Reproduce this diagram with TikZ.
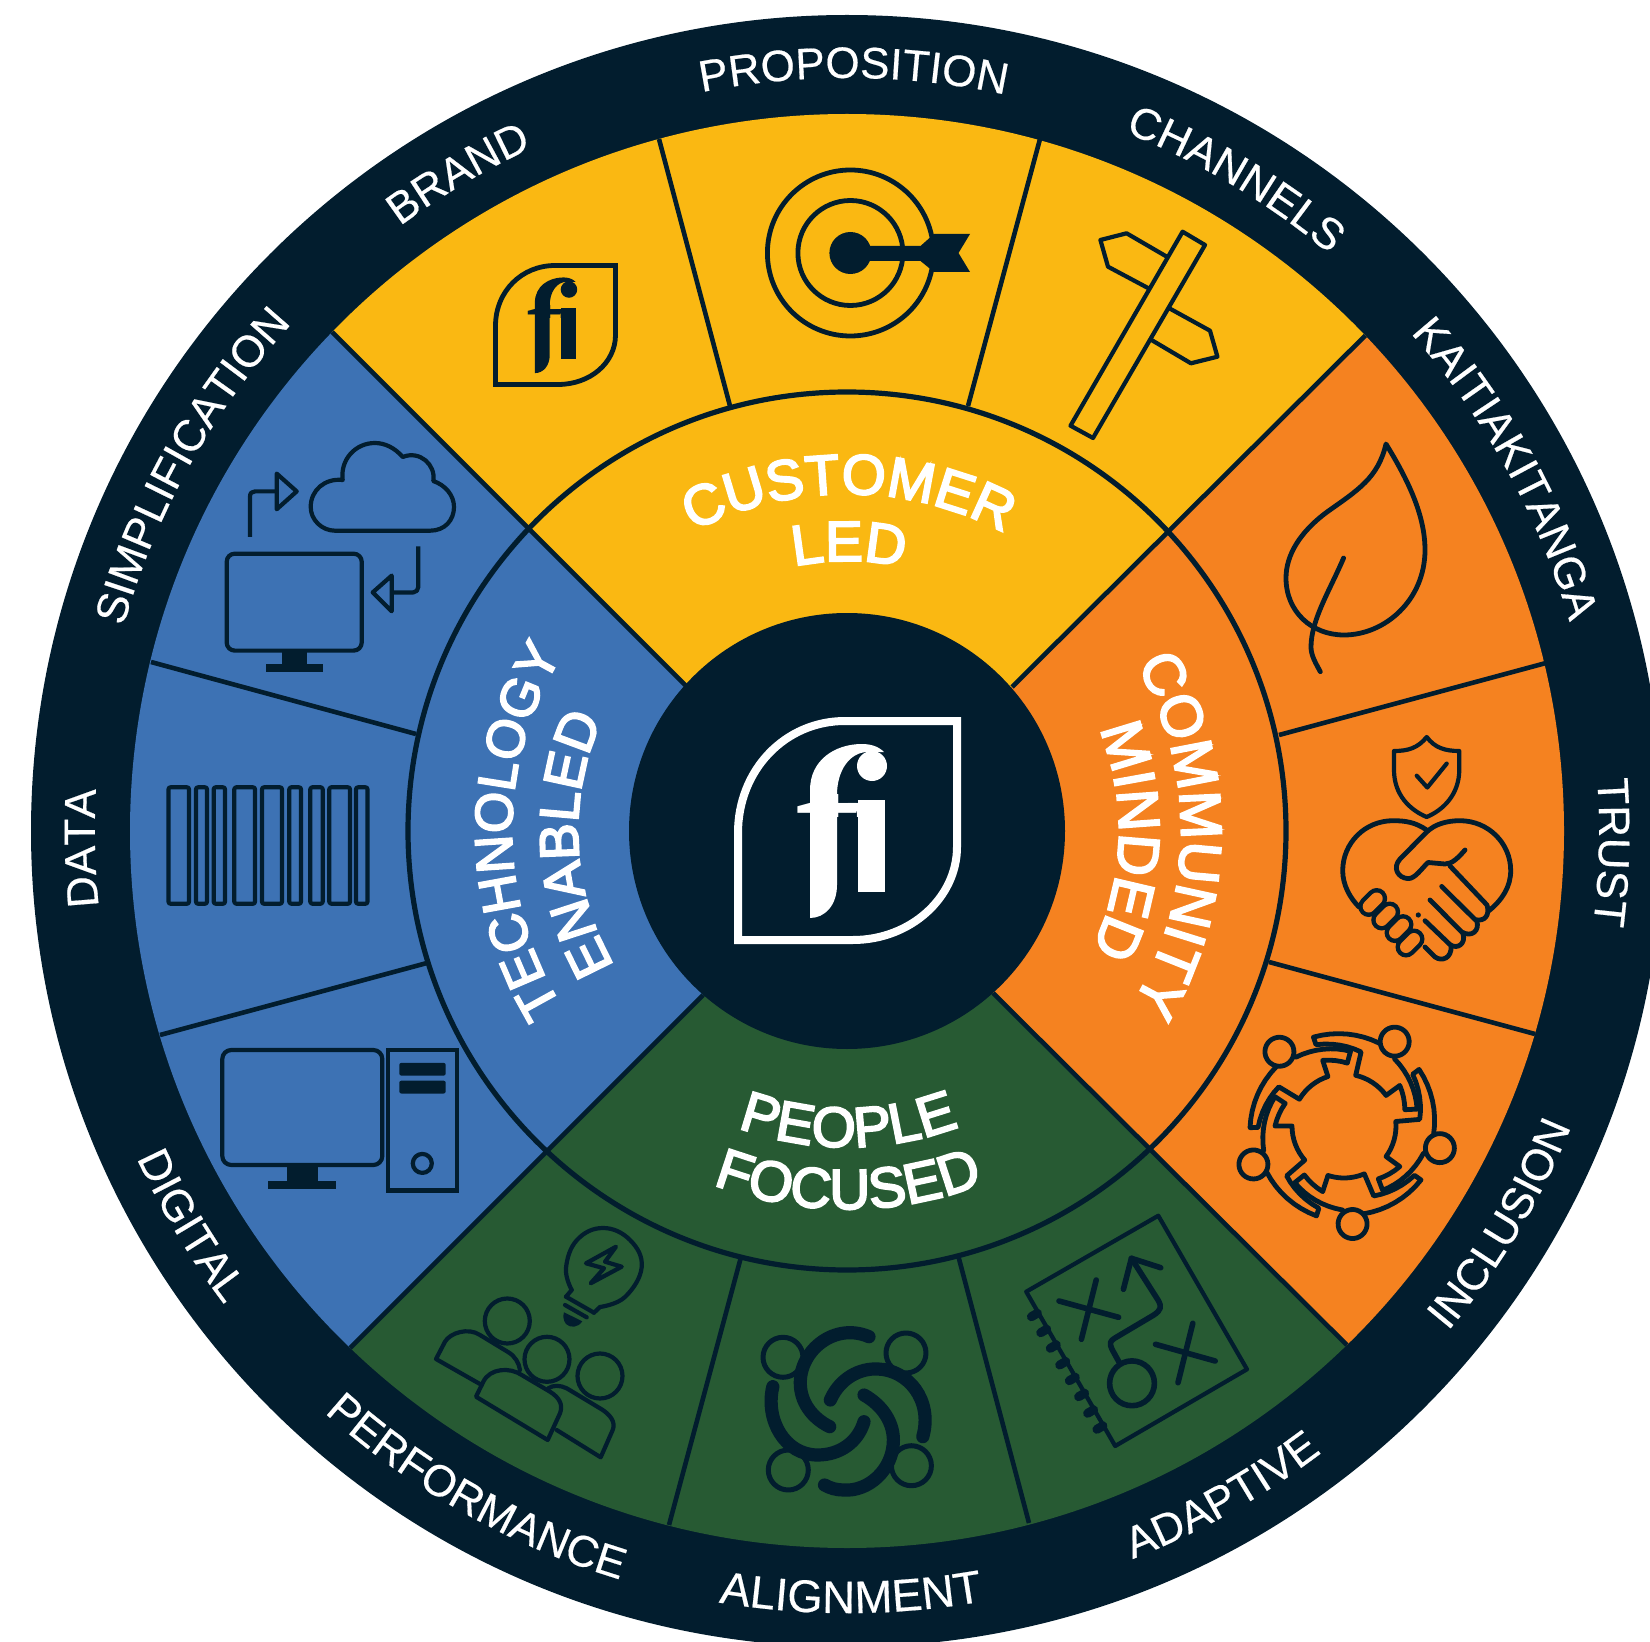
\documentclass[tikz,border=0pt]{standalone}
\usepackage{fontspec}
\setmainfont{Liberation Sans}
\newfontfamily\ringface[FakeBold=0.4]{Liberation Sans}
\newfontfamily\secface[FakeBold=3.5]{Liberation Sans}
\newfontfamily\fiface{Liberation Serif}
\usetikzlibrary{decorations.text}
\definecolor{navy}{HTML}{021D2E}
\definecolor{fiyellow}{HTML}{FAB812}
\definecolor{fiorange}{HTML}{F58220}
\definecolor{figreen}{HTML}{275A33}
\definecolor{fiblue}{HTML}{3D72B4}
\newcommand{\ringfont}{\ringface\fontsize{22}{22}\selectfont\color{white}}
\newcommand{\ringfontb}{\ringface\fontsize{22.8}{22.8}\selectfont\color{white}}
\newcommand{\secfont}{\secface\fontsize{28.3}{28.3}\selectfont\color{white}}
\newcommand{\secfontr}{\secface\fontsize{29}{29}\selectfont\color{white}}
\newcommand{\secfontl}{\secface\fontsize{26.5}{26.5}\selectfont\color{white}}
\newcommand{\secfontm}{\secface\fontsize{27.5}{27.5}\selectfont\color{white}}
\newcommand{\cwtext}[4]{\path[decorate,decoration={text along path,text={|#3|#4},text align=center}] (#2+60:#1) arc[start angle=#2+60,end angle=#2-60,radius=#1];}
\newcommand{\ccwtext}[4]{\path[decorate,decoration={text along path,text={|#3|#4},text align=center}] (#2-60:#1) arc[start angle=#2-60,end angle=#2+60,radius=#1];}
\newcommand{\capsule}[2]{\draw[navy,line width=10.5pt,line cap=round] (#1-4,#2+4) -- (#1+4,#2-4);\draw[fiorange,line width=6pt,line cap=round] (#1-4,#2+4) -- (#1+4,#2-4);}
\newcommand{\tooth}[2]{\draw[navy,line width=4.5pt,line cap=round] (#1,#2) -- (#1+6,#2-3.5);}
% the fi mark: #1 x, #2 y, #3 scale, #4 colour, #5 name
\newcommand{\fimark}[5]{%
 \begin{scope}[shift={(#1,#2)},x=#3*0.5pt,y=-#3*0.5pt]
  \begin{scope}
   \clip (-60,-36) rectangle (60,-14);
   \node (#5) [inner sep=0pt,anchor=base,scale=#3,text=#4,font=\fiface\bfseries\fontsize{97}{97}\selectfont] at (-0.5,61.5) {f\kern-8.5pt i};
  \end{scope}
  \fill[#4] (-37.5,87.5) -- (-37.5,-40.5) .. controls (-37.5,-70.5) and (-12.5,-86.5) .. (14.5,-86.5) .. controls (22.5,-86.5) and (30.5,-84.5) .. (36.5,-78.5) -- (20.5,-78.5) .. controls (2.5,-78.5) and (-10.5,-60.5) .. (-10.5,-35.5) -- (-10.5,54.5) .. controls (-10.5,74.5) and (-22.5,87.5) .. (-37.5,87.5) -- cycle;
  \fill[#4] (24.5,-64.5) circle[radius=15];
  \fill[#4] (10.5,-30.5) rectangle (37.5,61.5);
 \end{scope}}
\tikzset{
 spoke/.style={navy,line width=2.3pt},
 ic/.style={navy,line width=2.4pt,line join=round,line cap=round},
 icthin/.style={navy,line width=2.1pt,line join=round,line cap=round},
 swirl/.style={navy,line width=6.6pt,line cap=round},
}
\begin{document}
\begin{tikzpicture}[x=0.5pt,y=-0.5pt]
\useasboundingbox (0,0) rectangle (1650,1642);
\clip (0,0) rectangle (1650,1642);
\fill[white] (0,0) rectangle (1650,1642);
\fill[navy] (847,831) circle[radius=816];
\begin{scope}
 \clip (847,831) circle[radius=717];
 \fill[fiyellow] (847,831) -- (686,686) -- (232,232) -- (847,-100) -- (1466,235) -- (1012,687) -- cycle;
 \fill[fiorange] (847,831) -- (1012,687) -- (1466,235) -- (1800,831) -- (1447,1445) -- (993,993) -- cycle;
 \fill[figreen] (847,831) -- (993,993) -- (1447,1445) -- (847,1800) -- (250,1448) -- (703,995) -- cycle;
 \fill[fiblue] (847,831) -- (703,995) -- (250,1448) -- (-100,831) -- (232,232) -- (686,686) -- cycle;
 \draw[spoke] (300,300) -- (686,686);
 \draw[spoke] (1400,301) -- (1012,687);
 \draw[spoke] (1380,1378) -- (993,993);
 \draw[spoke] (317,1381) -- (703,995);
\end{scope}
% dividers
\draw[spoke] (659,139) -- (730,406);
\draw[spoke] (1040,139) -- (968,406);
\draw[spoke] (1546,663) -- (1279,735);
\draw[spoke] (1535,1034) -- (1269,962);
\draw[spoke] (669,1525) -- (741,1257);
\draw[spoke] (1029,1523) -- (958,1255);
\draw[spoke] (151,662) -- (416,734);
\draw[spoke] (160,1035) -- (427,963);
\draw[navy,line width=2.6pt] (847,831) circle[radius=439];
\fill[navy] (847,831) circle[radius=218];
% central logo
\draw[white,line width=4pt,miter limit=10] (738,940) -- (738,833) .. controls (738,770) and (785,721) .. (845,721) -- (957,721) -- (957,847) .. controls (957,898) and (910,940) .. (853,940) -- cycle;
\fimark{847.5}{830.5}{1}{white}{fibig}
% small logo
\draw[navy,line width=2.4pt,miter limit=10] (495.5,384.5) -- (495.5,326) .. controls (495.5,291) and (522,265.5) .. (555,265.5) -- (615.5,265.5) -- (615.5,335) .. controls (615.5,363) and (590,384.5) .. (558,384.5) -- cycle;
\fimark{555.5}{325}{0.55}{navy}{fismall}
% target
\draw[ic] (850.4,253) circle[radius=83];
\draw[ic] (850.4,253) circle[radius=52.5];
\fill[navy] (850.4,253) circle[radius=21];
\fill[navy] (850,246) -- (920.5,246) -- (934,234) -- (970,234) -- (958.5,253) -- (970,272) -- (934,272) -- (920.5,261) -- (850,261) -- cycle;
% signpost
\begin{scope}[icthin]
\draw (1182.6,231.7) -- (1205,245) -- (1093,438) -- (1070.5,425.7) -- cycle;
\draw (1166.8,256.7) -- (1126.6,233.3) -- (1100.4,240) -- (1108,266.7) -- (1148.5,288.3);
\draw (1169.3,308.3) -- (1210,330.7) -- (1217.4,356.7) -- (1190.9,363.3) -- (1151.5,340);
\end{scope}
% leaf
\draw[ic] (1386,444) .. controls (1378,478) and (1358,490) .. (1327,512) .. controls (1300,532) and (1286,555) .. (1286,578) .. controls (1286,612) and (1312,635) .. (1344,635) .. controls (1385,635) and (1425,600) .. (1425,550) .. controls (1425,515) and (1408,480) .. (1386,444) -- cycle;
\draw[ic] (1343.6,558) .. controls (1330,590) and (1311,620) .. (1311,647) .. controls (1311,655) and (1315,662) .. (1320.3,671.7);
% shield and handshake
\begin{scope}[icthin]
\draw (1426.7,737) .. controls (1418,748) and (1408,751) .. (1394,751) -- (1394,770) .. controls (1394,795) and (1410,810) .. (1426.7,817) .. controls (1443,810) and (1459,795) .. (1459.3,770) -- (1459.3,751) .. controls (1445,751) and (1435,748) .. (1426.7,737) -- cycle;
\draw (1416.7,775.7) -- (1427.3,787.5) -- (1446.7,763.6);
\end{scope}
\begin{scope}[ic]
\draw (1426.7,830) .. controls (1415,822) and (1405,820.7) .. (1393,820.7) .. controls (1365,820.7) and (1342.7,843) .. (1342.7,870.7) .. controls (1342.7,885) and (1350,898) .. (1359,907);
\draw (1489,910.7) .. controls (1502,900) and (1510.7,887) .. (1510.7,870.7) .. controls (1510.7,843) and (1488,820.7) .. (1460,820.7) .. controls (1447,820.7) and (1435,824) .. (1426.7,832) -- (1400,859) .. controls (1392,868) and (1398,878) .. (1408,878.6) .. controls (1415,879) and (1422,868) .. (1428,862.5) -- (1445,864) .. controls (1452,864) and (1458,858) .. (1465,850);
\draw (1450,866) -- (1487,905) .. controls (1490,915) and (1485,922) .. (1475,919.6) -- (1441.7,886.4);
\draw (1476.7,921) .. controls (1480,930) and (1472,938) .. (1461.7,932) -- (1430,900);
\draw (1463,934) .. controls (1466,943) and (1458,950) .. (1450,944.6) -- (1425,920.7);
\draw (1451,946) .. controls (1452,958) and (1442,962) .. (1435,957) -- (1425,947);
\fill (1418.3,915) circle[radius=2.6];
\end{scope}
\capsule{1372.7}{902.5}
\capsule{1385.7}{916}
\capsule{1399}{928.6}
\capsule{1410}{943}
% inclusion ring
\begin{scope}[shift={(1344,1126)},x=0.5pt,y=0.5pt]
\foreach \k in {0,...,4}{
 \begin{scope}[rotate=-3-72*\k]
 \draw[ic] (134:98.4) circle[radius=14.5];
 \draw[ic] plot[domain=128:88,samples=9,variable=\myt] (\myt:{84-(128-\myt)/40*9}) -- (90:63)
   -- plot[domain=90:111,samples=5,variable=\myt] (\myt:{63+(\myt-90)/21*6}) -- (111:52)
   -- plot[domain=111:152,samples=9,variable=\myt] (\myt:52) -- (152:76)
   -- plot[domain=152:184,samples=7,variable=\myt] (\myt:{76+(\myt-152)/32*10}) -- (184:94)
   -- plot[domain=184:142,samples=9,variable=\myt] (\myt:{94-(184-\myt)/42*4});
 \end{scope}
}
\end{scope}
% people and bulb
\begin{scope}[icthin]
\draw plot[smooth,tension=0.7] coordinates {(600,1307) (625,1297) (641.7,1267) (630,1240) (603,1228) (577,1240) (566,1268) (571.7,1290)};
\draw (566,1296.7) -- (594,1312.7);
\draw (565,1305) -- (586.7,1317.3);
\draw (571.7,1290) -- (566,1296.7);
\draw (594,1312.7) -- (600,1307);
\draw (616,1246.7) -- (586,1263.3) -- (604,1268.3) -- (590.7,1283.3) -- (621.7,1266.7) -- (605,1261.7) -- cycle;
\fill (564,1312.3) -- (582.3,1321.3) .. controls (578,1328) and (570,1328) .. (566,1324) .. controls (563,1320) and (563,1316) .. (564,1312.3) -- cycle;
\draw (507.3,1321) circle[radius=22.5];
\draw (547,1359.3) circle[radius=22.5];
\draw (600,1376) circle[radius=22.5];
\draw (481.7,1385) -- (436,1359) -- (445,1341.7) .. controls (450,1333) and (468,1327) .. (480,1335) -- (508,1352) .. controls (515,1356) and (519,1363) .. (520,1370);
\draw (476,1396.7) -- (483.3,1381.7) .. controls (490,1368) and (510,1367) .. (521.7,1375) -- (550,1391.7) .. controls (560,1398) and (563,1405) .. (560,1413.3) -- (547.7,1440) -- cycle;
\draw (548.3,1388.3) .. controls (553,1385) and (560,1385) .. (566.7,1388.3) -- (600,1408.3) .. controls (610,1414) and (616,1422) .. (612.7,1430) -- (600.7,1457.3) -- (556.7,1430);
\end{scope}
% alignment
\begin{scope}[icthin]
\draw[line width=2.5pt] (783,1357.3) circle[radius=20];
\draw[line width=2.5pt] (906,1353) circle[radius=20];
\draw[line width=2.5pt] (788.3,1470) circle[radius=20];
\draw[line width=2.5pt] (911.4,1465.7) circle[radius=20];
\end{scope}
\draw[swirl] (869,1336.7) .. controls (835,1322) and (800,1350) .. (800.3,1383) .. controls (800.3,1402) and (812,1418) .. (829.7,1426.7);
\draw[swirl] (830.3,1400) .. controls (840,1378) and (860,1368) .. (878,1369) .. controls (908,1370) and (933,1400) .. (922.8,1436.7);
\draw[swirl] (864,1395) .. controls (882,1405) and (893.4,1422) .. (893.4,1440) .. controls (893.4,1470) and (868,1492) .. (843.4,1490) .. controls (836,1490) and (830,1488) .. (824.5,1485);
\draw[swirl] (772.8,1386.7) .. controls (765,1420) and (785,1455) .. (817.6,1455) .. controls (840,1455) and (858,1442) .. (864,1421.7);
% adaptive
\begin{scope}[icthin]
\draw (1158.3,1215.7) -- (1247,1369.3) -- (1115.2,1446) -- (1026.2,1291.7) -- cycle;
\end{scope}
\tooth{1031.4}{1316.7}\tooth{1040.7}{1332.7}\tooth{1050.3}{1348.3}\tooth{1059.7}{1365}\tooth{1069.3}{1380.7}\tooth{1078.6}{1396.7}\tooth{1087.6}{1413.3}\tooth{1096.9}{1429.3}
\begin{scope}[ic,line width=2.8pt]
\draw (1059,1301) -- (1118.6,1317.3);
\draw (1096.2,1280) -- (1081.4,1339.3);
\draw (1155.5,1344.3) -- (1215.2,1361);
\draw (1192.8,1323.3) -- (1178,1382.7);
\draw (1132,1383.3) circle[radius=22.4];
\draw (1119,1362) -- (1112.4,1350) .. controls (1109,1343) and (1110,1341) .. (1115,1338) -- (1153.8,1315) .. controls (1161,1310) and (1162,1307) .. (1158,1300) -- (1131.4,1258.3);
\draw (1123.4,1289.3) -- (1131.4,1258.3) -- (1160.7,1267.7);
\end{scope}
% cloud and monitor
\begin{scope}[icthin]
\draw (335,530.7) -- (430,530.7) .. controls (445,530.7) and (454,520) .. (454,507) .. controls (454,495) and (445,485) .. (433.3,481) .. controls (436,465) and (420,450) .. (402.7,457) .. controls (395,448) and (385,443) .. (375,443) .. controls (355,443) and (340,460) .. (342.7,480) .. controls (325,478) and (310.7,490) .. (310.7,507) .. controls (310.7,520) and (322,530.7) .. (335,530.7) -- cycle;
\draw[line cap=butt] (250,537) -- (250,496.5) .. controls (250,493) and (252,491.4) .. (255,491.4) -- (276,491.4);
\draw (276.7,473.6) -- (296.7,491.4) -- (276.7,509.3) -- cycle;
\draw[line cap=butt] (418.3,546.5) -- (418.3,587) .. controls (418.3,590) and (416,592.4) .. (413.3,592.4) -- (392.7,592.4);
\draw (391.7,575.6) -- (372.7,592.4) -- (391.7,611.3) -- cycle;
\draw[rounded corners=4pt] (226.7,553.7) rectangle (361.7,650.6);
\fill (281.7,650) rectangle (306.7,665);
\fill (266,664) rectangle (322.7,671.5);
% barcode
\foreach \xa/\xb in {168.5/189,196/207,213.7/225,234.3/255,262/282,289.3/301,310.3/322.7,329.3/350,356/367.5}{
 \draw[rounded corners=1pt] (\xa,787.3) rectangle (\xb,903.7);
}
% monitor and tower
\draw[rounded corners=4.5pt] (222.3,1050) rectangle (382.3,1165);
\fill (287.3,1165) rectangle (317.7,1182.7);
\fill (268.3,1181) rectangle (335.7,1189.4);
\draw[line join=miter] (388.3,1050) rectangle (456.7,1190.4);
\fill[rounded corners=1pt] (399.3,1062.9) rectangle (445.7,1075.6);
\fill[rounded corners=1pt] (399.3,1080.7) rectangle (445.7,1093.5);
\draw (422.3,1163.4) circle[radius=9.5];
\end{scope}
% texts
\begin{scope}[shift={(847,831)},x=0.5pt,y=0.5pt]
\cwtext{753}{89.5}{\ringfont}{PROPOSITION}
\cwtext{752}{120.6}{\ringfont}{BRAND}
\cwtext{752}{59.2}{\ringfont}{CHANNELS}
\cwtext{752}{150.9}{\ringfont}{SIMPLIFICATION}
\cwtext{752}{28.8}{\ringfont}{KAITIAKITANGA}
\cwtext{752}{181.3}{\ringfont}{DATA}
\cwtext{752}{-1.6}{\ringfont}{TRUST}
\ccwtext{782}{211}{\ringfont}{DIGITAL}
\ccwtext{782}{240.6}{\ringfont}{PERFORMANCE}
\ccwtext{782}{270.3}{\ringfontb}{ALIGNMENT}
\ccwtext{782}{299.4}{\ringfont}{ADAPTIVE}
\ccwtext{782}{329}{\ringfont}{INCLUSION}
\cwtext{337}{89.7}{\secfont}{CUSTOMER}
\cwtext{270}{89.6}{\secfont}{LED}
\ccwtext{316}{270.3}{\secfont}{PEOPLE}
\ccwtext{378}{270.2}{\secfont}{FOCUSED}
\cwtext{334}{-0.7}{\secfontr}{COMMUNITY}
\cwtext{272}{-2}{\secfontr}{MINDED}
\cwtext{335}{180}{\secfontl}{TECHNOLOGY}
\cwtext{269}{182.8}{\secfontm}{ENABLED}
\end{scope}
\end{tikzpicture}
\end{document}
